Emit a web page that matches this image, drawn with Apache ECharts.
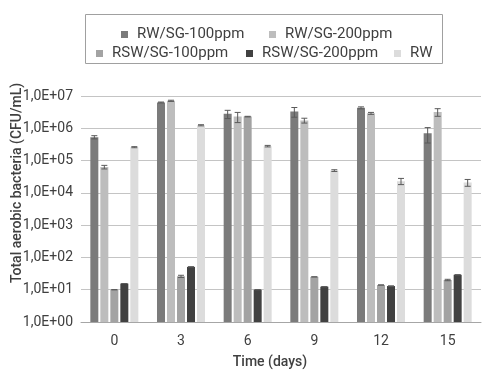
<!DOCTYPE html>
<html>
<head>
<meta charset="utf-8">
<script src="https://cdn.jsdelivr.net/npm/echarts@6/dist/echarts.min.js"></script>
<style>
  html, body { margin: 0; padding: 0; background: #fff; }
  #chart { width: 489px; height: 375px; }
</style>
</head>
<body>
<div id="chart"></div>
<script>
// categories (days)
var days = ['0', '3', '6', '9', '12', '15'];
var names = ['RW/SG-100ppm', 'RW/SG-200ppm', 'RSW/SG-100ppm', 'RSW/SG-200ppm', 'RW'];
var colors = ['#7b7b7b', '#bdbdbd', '#a3a3a3', '#414141', '#dcdcdc'];

// mean values, CFU/mL
var rwSg100 = [5.3e5, 6.3e6, 2.8e6, 3.3e6, 4.3e6, 7.0e5];
var rwSg200 = [6.3e4, 7.1e6, 2.3e6, 1.75e6, 2.9e6, 3.2e6];
var rswSg100 = [10, 26, 2.3e6, 25, 14, 20];
var rswSg200 = [15.5, 51, 10, 12.4, 13, 29];
var rw = [2.6e5, 1.24e6, 2.8e5, 4.9e4, 2.3e4, 2.1e4];

// standard deviations
var errRwSg100 = [0.6e5, 0.2e6, 0.8e6, 1.1e6, 0.3e6, 0.35e6];
var errRwSg200 = [0.8e4, 0.3e6, 0.8e6, 0.3e6, 0.2e6, 0.85e6];
var errRswSg100 = [0, 2, 0.05e6, 0, 0, 1];
var errRswSg200 = [0, 0, 0, 0, 0, 0];
var errRw = [0.1e5, 0.05e6, 0.15e5, 0.3e4, 0.5e4, 0.5e4];

var means = [rwSg100, rwSg200, rswSg100, rswSg200, rw];
var errs = [errRwSg100, errRwSg200, errRswSg100, errRswSg200, errRw];

var FONT = 'Roboto';
var chart = echarts.init(document.getElementById('chart'));

var series = [];
for (var s = 0; s < names.length; s++) {
  series.push({
    name: names[s],
    type: 'bar',
    barWidth: 8,
    barGap: '25%',
    itemStyle: { color: colors[s] },
    data: means[s]
  });
}
// error bars, one custom series per bar series
for (var s = 0; s < names.length; s++) {
  (function (idx) {
    var d = [];
    for (var i = 0; i < days.length; i++) {
      d.push([i, means[idx][i] - errs[idx][i], means[idx][i] + errs[idx][i]]);
    }
    series.push({
      type: 'custom',
      name: 'err' + idx,
      z: 5,
      silent: true,
      renderItem: function (params, api) {
        var off = (idx - 2) * 10;
        var lo = api.coord([api.value(0), Math.max(api.value(1), 1)]);
        var hi = api.coord([api.value(0), api.value(2)]);
        var x = lo[0] + off;
        var st = { stroke: '#5a5a5a', lineWidth: 1 };
        return {
          type: 'group',
          children: [
            { type: 'line', shape: { x1: x, y1: lo[1], x2: x, y2: hi[1] }, style: st },
            { type: 'line', shape: { x1: x - 3, y1: lo[1], x2: x + 3, y2: lo[1] }, style: st },
            { type: 'line', shape: { x1: x - 3, y1: hi[1], x2: x + 3, y2: hi[1] }, style: st }
          ]
        };
      },
      data: d
    });
  })(s);
}

// one legend per item so the two rows sit like the original
var legendPos = [[121, 27], [269, 27], [96, 46], [246, 46], [394, 46]];
var legends = [];
for (var s = 0; s < names.length; s++) {
  legends.push({
    data: [names[s]],
    left: legendPos[s][0],
    top: legendPos[s][1],
    padding: 0,
    icon: 'rect',
    itemWidth: 7,
    itemHeight: 7,
    textStyle: { fontFamily: FONT, fontSize: 15, color: '#404040', padding: [0, 0, 0, 4] }
  });
}

var option = {
  animation: false,
  legend: legends,
  grid: { left: 81, right: 8, top: 96, bottom: 53 },
  xAxis: {
    type: 'category',
    data: days,
    axisLine: { lineStyle: { color: '#a6a6a6', width: 1 } },
    axisTick: { show: false },
    axisLabel: { fontFamily: FONT, fontSize: 14, color: '#404040', margin: 12 }
  },
  yAxis: {
    type: 'log',
    logBase: 10,
    min: 1,
    max: 1e7,
    axisLine: { show: false },
    axisTick: { show: false },
    splitLine: { lineStyle: { color: '#c4c4c4', width: 1 } },
    axisLabel: {
      fontFamily: FONT, fontSize: 14, color: '#404040', margin: 8,
      formatter: function (v) {
        var e = Math.round(Math.log10(v));
        return '1,0E+' + (e < 10 ? '0' + e : e);
      }
    }
  },
  graphic: [
    {
      type: 'rect',
      shape: { x: 85.5, y: 14.5, width: 357, height: 49 },
      style: { fill: 'none', stroke: '#a0a0a0', lineWidth: 1 }
    },
    {
      type: 'text',
      x: 17, y: 183,
      rotation: Math.PI / 2,
      style: {
        text: 'Total aerobic bacteria (CFU/mL)',
        font: '500 14px Roboto', fill: '#404040',
        textAlign: 'center', textVerticalAlign: 'middle'
      }
    },
    {
      type: 'text',
      x: 270, y: 362,
      style: {
        text: 'Time (days)',
        font: '500 14px Roboto', fill: '#404040',
        textAlign: 'center', textVerticalAlign: 'middle'
      }
    }
  ],
  series: series
};
chart.setOption(option);
</script>
</body>
</html>
